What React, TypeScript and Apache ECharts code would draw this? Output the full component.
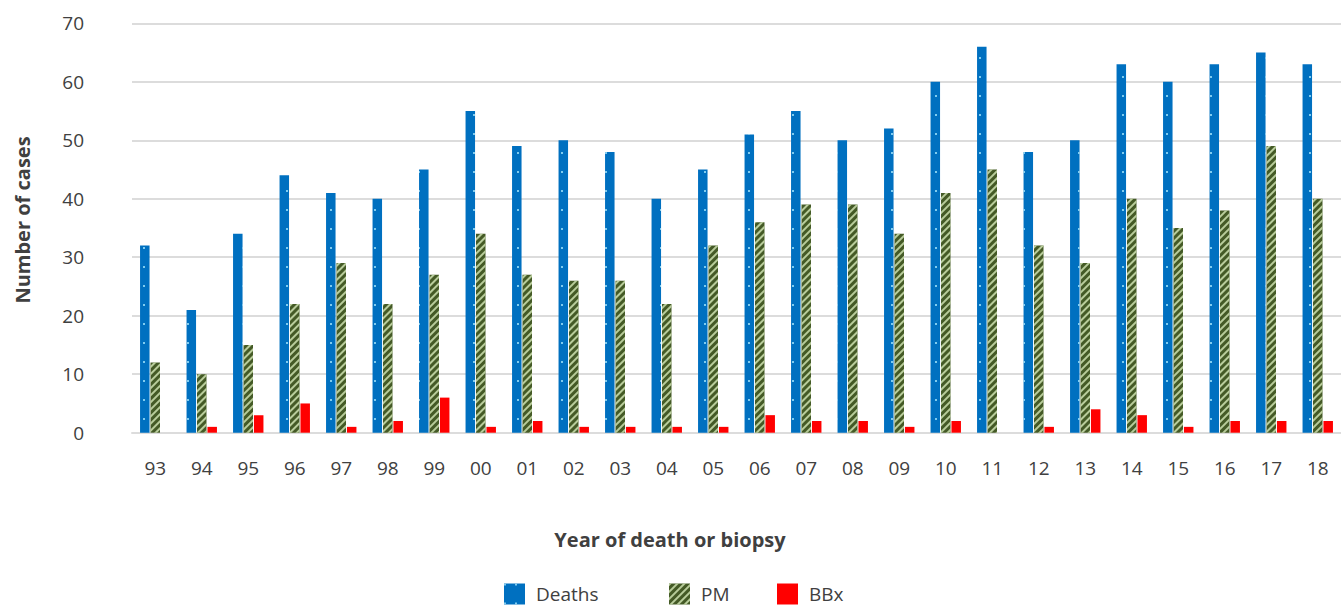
import React, { useEffect, useRef } from "react";
import * as echarts from "echarts";

const years = ["93","94","95","96","97","98","99","00","01","02","03","04","05","06","07","08","09","10","11","12","13","14","15","16","17","18"];
const deaths = [32,21,34,44,41,40,45,55,49,50,48,40,45,51,55,50,52,60,66,48,50,63,60,63,65,63];
const pm = [12,10,15,22,29,22,27,34,27,26,26,22,32,36,39,39,34,41,45,32,29,40,35,38,49,40];
const bbx = [0,1,3,5,1,2,6,1,2,1,1,1,1,3,2,2,1,2,0,1,4,3,1,2,2,2];
const yTicks = { min: 0, max: 70, interval: 10 };

const FONT = "'Open Sans', 'Noto Sans', sans-serif";
const TXT = "#404040";

export default function App() {
  const ref = useRef<HTMLDivElement>(null);
  useEffect(() => {
    if (!ref.current) return;
    const chart = echarts.init(ref.current, null, { renderer: "svg" });
    const legendBase = {
      top: 583,
      padding: 0,
      itemWidth: 21,
      itemHeight: 21,
      orient: "horizontal" as const,
      icon: "rect",
      textStyle: { fontFamily: FONT, fontSize: 19, lineHeight: 20, color: TXT, padding: [2, 0, 0, 6] },
    };
    chart.setOption({
      animation: false,
      backgroundColor: "#ffffff",
      grid: { left: 132, right: -13, top: 23.3, bottom: 175.3, containLabel: false },
      legend: [
        { ...legendBase, left: 504, data: ["Deaths"] },
        { ...legendBase, left: 669, data: ["PM"] },
        { ...legendBase, left: 777, data: ["BBx"] },
      ],
      xAxis: {
        type: "category",
        data: years,
        boundaryGap: true,
        axisTick: { show: false },
        axisLine: { show: true, lineStyle: { color: "#dcdcdc", width: 2 } },
        axisLabel: { margin: 26, fontFamily: FONT, fontSize: 19, color: TXT, interval: 0 },
      },
      yAxis: {
        type: "value",
        min: yTicks.min,
        max: yTicks.max,
        interval: yTicks.interval,
        axisLine: { show: false },
        axisTick: { show: false },
        axisLabel: { margin: 48, fontFamily: FONT, fontSize: 19, color: TXT },
        splitLine: { lineStyle: { color: "#dcdcdc", width: 2 } },
      },
      graphic: [
        {
          type: "text",
          x: 22,
          y: 220,
          rotation: Math.PI / 2,
          style: {
            text: "Number of cases",
            fontFamily: FONT,
            fontSize: 20,
            fontWeight: "bold",
            fill: TXT,
            align: "center",
            verticalAlign: "middle",
          },
        },
        {
          type: "text",
          x: 670,
          y: 539,
          style: {
            text: "Year of death or biopsy",
            fontFamily: FONT,
            fontSize: 20,
            fontWeight: "bold",
            fill: TXT,
            align: "center",
            verticalAlign: "middle",
          },
        },
      ],
      series: [
        {
          name: "Deaths",
          type: "bar",
          data: deaths,
          barWidth: 9.5,
          barGap: "10%",
          itemStyle: {
            color: "#0070C0",
            decal: {
              symbol: "rect",
              symbolSize: 1,
              dashArrayX: [[2, 9]],
              dashArrayY: [2, 17],
              color: "rgba(170,235,255,0.75)",
            },
          },
        },
        {
          name: "PM",
          type: "bar",
          data: pm,
          barWidth: 9.5,
          barGap: "10%",
          itemStyle: {
            color: "#445a26",
            decal: {
              symbol: "rect",
              symbolSize: 1,
              dashArrayX: [1, 0],
              dashArrayY: [1.5, 2.5],
              rotation: -Math.PI / 4,
              color: "rgba(205,225,175,0.85)",
            },
          },
        },
        {
          name: "BBx",
          type: "bar",
          data: bbx,
          barWidth: 9.5,
          barGap: "10%",
          itemStyle: { color: "#FF0000" },
        },
      ],
    });
    return () => chart.dispose();
  }, []);
  return (
    <div
      ref={ref}
      style={{ position: "fixed", left: 0, top: 0, width: 1341, height: 608 }}
    />
  );
}
